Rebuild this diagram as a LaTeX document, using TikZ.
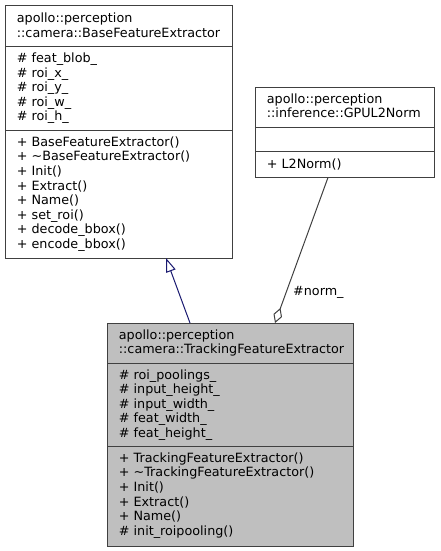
\documentclass[tikz,border=0pt]{standalone}
\usepackage{fontspec}
\setmainfont{DejaVu Sans}
\usetikzlibrary{arrows.meta}
\definecolor{edgegray}{HTML}{404040}
\definecolor{fillgray}{HTML}{BFBFBF}
\definecolor{inhblue}{HTML}{191970}
\begin{document}
\begin{tikzpicture}[x=1pt,y=-1pt,
  box/.style={draw=edgegray, line width=1pt, inner sep=0pt, outer sep=0pt, anchor=north west, fill=white},
  cur/.style={box, fill=fillgray},
  sepline/.style={draw=edgegray, line width=1pt},
  txt/.style={anchor=base west, inner sep=0pt, font=\fontsize{12.75}{14.6}\selectfont},
  inherit/.style={draw=inhblue, line width=1pt, -{Triangle[open,length=14pt,width=10pt]}},
  aggr/.style={draw=edgegray, line width=1pt, {Diamond[open,length=16pt,width=9pt]}-}]
\useasboundingbox (0,0) rectangle (440,551);

% Base class
\node[box, minimum width=227pt, minimum height=252pt] (base) at (5,6) {};
\draw[sepline] ([yshift=-40.5pt]base.north west) -- ([yshift=-40.5pt]base.north east);
\draw[sepline] ([yshift=-124.5pt]base.north west) -- ([yshift=-124.5pt]base.north east);
\node[txt] (base-h1) at (16.7,22.65) {apollo::perception};
\node[txt] (base-h2) at (16.7,37.25) {::camera::BaseFeatureExtractor};
\foreach \t [count=\i from 0] in {\# feat\_blob\_,\# roi\_x\_,\# roi\_y\_,\# roi\_w\_,\# roi\_h\_}
  \node[txt] (base-a\i) at (16.7,{62.5+\i*14.6}) {\t};
\foreach \t [count=\i from 0] in {+ BaseFeatureExtractor(),+ \textasciitilde BaseFeatureExtractor(),+ Init(),+ Extract(),+ Name(),+ set\_roi(),+ decode\_bbox(),+ encode\_bbox()}
  \node[txt] (base-m\i) at (16.7,{146.2+\i*14.6}) {\t};

% GPUL2Norm
\node[box, minimum width=179pt, minimum height=90.5pt] (gpu) at (255,87) {};
\draw[sepline] ([yshift=-40.5pt]gpu.north west) -- ([yshift=-40.5pt]gpu.north east);
\draw[sepline] ([yshift=-64.5pt]gpu.north west) -- ([yshift=-64.5pt]gpu.north east);
\node[txt] (gpu-h1) at (266.7,103.3) {apollo::perception};
\node[txt] (gpu-h2) at (266.7,117.9) {::inference::GPUL2Norm};
\node[txt] (gpu-m0) at (266.7,168) {+ L2Norm()};

% Tracking
\node[cur, minimum width=246pt, minimum height=223pt] (trk) at (107,323) {};
\draw[sepline] ([yshift=-40.5pt]trk.north west) -- ([yshift=-40.5pt]trk.north east);
\draw[sepline] ([yshift=-123.2pt]trk.north west) -- ([yshift=-123.2pt]trk.north east);
\node[txt] (trk-h1) at (118.7,339.2) {apollo::perception};
\node[txt] (trk-h2) at (118.7,353.8) {::camera::TrackingFeatureExtractor};
\foreach \t [count=\i from 0] in {\# roi\_poolings\_,\# input\_height\_,\# input\_width\_,\# feat\_width\_,\# feat\_height\_}
  \node[txt] (trk-a\i) at (118.7,{379+\i*14.6}) {\t};
\foreach \t [count=\i from 0] in {+ TrackingFeatureExtractor(),+ \textasciitilde TrackingFeatureExtractor(),+ Init(),+ Extract(),+ Name(),\# init\_roipooling()}
  \node[txt] (trk-m\i) at (118.7,{462.3+\i*14.6}) {\t};

% Connectors
\coordinate (inhS) at (190,323);
\coordinate (inhE) at (166,258);
\draw[inherit] (inhS) -- (inhE);
\coordinate (aggT) at (275,323);
\coordinate (aggG) at (328,177.5);
\draw[aggr] (aggT) -- (aggG);
\node[txt] (normlbl) at (293,295.5) {\#norm\_};
\end{tikzpicture}
\end{document}
